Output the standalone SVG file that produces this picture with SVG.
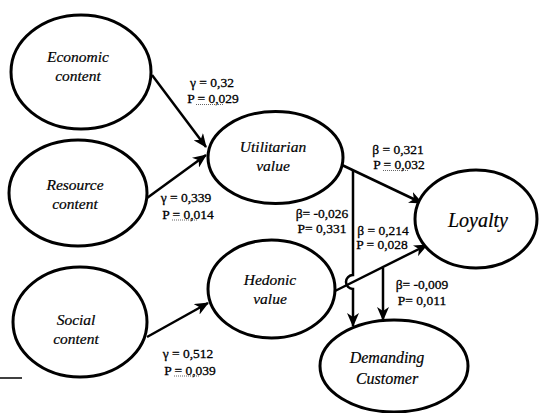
<svg xmlns="http://www.w3.org/2000/svg" width="539" height="413" viewBox="0 0 539 413">
<style>
.node{fill:#fff;stroke:#000;stroke-width:3}
.nl{font-family:'Liberation Serif','Times New Roman','DejaVu Serif',serif;font-style:italic;font-size:15.5px;fill:#000;text-anchor:middle;stroke:#000;stroke-width:0.2}
.conn{fill:none;stroke:#000;stroke-width:2.5}
.lbl{font-family:'Liberation Serif','Times New Roman','DejaVu Serif',serif;font-size:13.5px;fill:#000;text-anchor:middle;stroke:#000;stroke-width:0.3}
.dot{stroke:#666;stroke-width:1;stroke-dasharray:1 1}
</style>
<defs>
<marker id="ah" viewBox="0 0 14 12" refX="13" refY="6" markerWidth="14" markerHeight="12" markerUnits="userSpaceOnUse" orient="auto">
<path d="M0,0 L14,6 L0,12 L4,6 Z" fill="#000"/>
</marker>
</defs>
<rect width="539" height="413" fill="#fff"/>
<g id="connectors">
<line class="conn" x1="152" y1="75" x2="206" y2="147" marker-end="url(#ah)"/>
<line class="conn" x1="147" y1="198" x2="206" y2="155" marker-end="url(#ah)"/>
<line class="conn" x1="147" y1="337" x2="208" y2="303" marker-end="url(#ah)"/>
<line class="conn" x1="342" y1="165" x2="422" y2="203" marker-end="url(#ah)"/>
<line class="conn" x1="333" y1="292" x2="427" y2="245" marker-end="url(#ah)"/>
<path class="conn" d="M353,170 V275 A7,7 0 0 0 353,289 V326" marker-end="url(#ah)"/>
<line class="conn" x1="383" y1="268" x2="383" y2="320" marker-end="url(#ah)"/>
<line x1="0" y1="378" x2="22" y2="378" stroke="#000" stroke-width="1.5"/>
</g>
<g id="economic">
<ellipse class="node" cx="81" cy="72" rx="70" ry="57"/>
<text class="nl" x="78" y="62">Economic</text>
<text class="nl" x="78" y="81">content</text>
</g>
<g id="resource">
<ellipse class="node" cx="78" cy="193" rx="69" ry="53"/>
<text class="nl" x="75" y="190">Resource</text>
<text class="nl" x="75" y="209">content</text>
</g>
<g id="social">
<ellipse class="node" cx="80" cy="322" rx="67" ry="55"/>
<text class="nl" x="76" y="325">Social</text>
<text class="nl" x="76" y="344">content</text>
</g>
<g id="utilitarian">
<ellipse class="node" cx="275.5" cy="157.5" rx="67.5" ry="46"/>
<text class="nl" x="273" y="152">Utilitarian</text>
<text class="nl" x="273" y="171">value</text>
</g>
<g id="hedonic">
<ellipse class="node" cx="271.5" cy="289" rx="63.5" ry="49"/>
<text class="nl" x="270" y="285">Hedonic</text>
<text class="nl" x="270" y="304">value</text>
</g>
<g id="loyalty">
<ellipse class="node" cx="476" cy="219" rx="61" ry="49"/>
<text class="nl" x="478" y="227" style="font-size:20px">Loyalty</text>
</g>
<g id="demanding">
<ellipse class="node" cx="394" cy="366" rx="74" ry="46"/>
<text class="nl" x="387" y="363" style="font-size:16px">Demanding</text>
<text class="nl" x="387" y="384" style="font-size:16px">Customer</text>
</g>
<g id="labels">
<text class="lbl" x="212" y="87">γ = 0,32</text>
<text class="lbl" x="213" y="103">P = 0,029</text>
<line class="dot" x1="196" y1="104.5" x2="224" y2="104.5"/>
<text class="lbl" x="186" y="202">γ = 0,339</text>
<text class="lbl" x="188" y="218.5">P = 0,014</text>
<line class="dot" x1="172" y1="220" x2="198" y2="220"/>
<text class="lbl" x="188" y="358">γ = 0,512</text>
<text class="lbl" x="190" y="374.5">P = 0,039</text>
<line class="dot" x1="174" y1="376" x2="200" y2="376"/>
<text class="lbl" x="398" y="154">β = 0,321</text>
<text class="lbl" x="399" y="169">P = 0,032</text>
<line class="dot" x1="383" y1="170.5" x2="409" y2="170.5"/>
<text class="lbl" x="322" y="218">β= -0,026</text>
<text class="lbl" x="322" y="233">P= 0,331</text>
<text class="lbl" x="383" y="235">β = 0,214</text>
<text class="lbl" x="382" y="249">P = 0,028</text>
<text class="lbl" x="422" y="289">β= -0,009</text>
<text class="lbl" x="422" y="305">P= 0,011</text>
</g>
</svg>
